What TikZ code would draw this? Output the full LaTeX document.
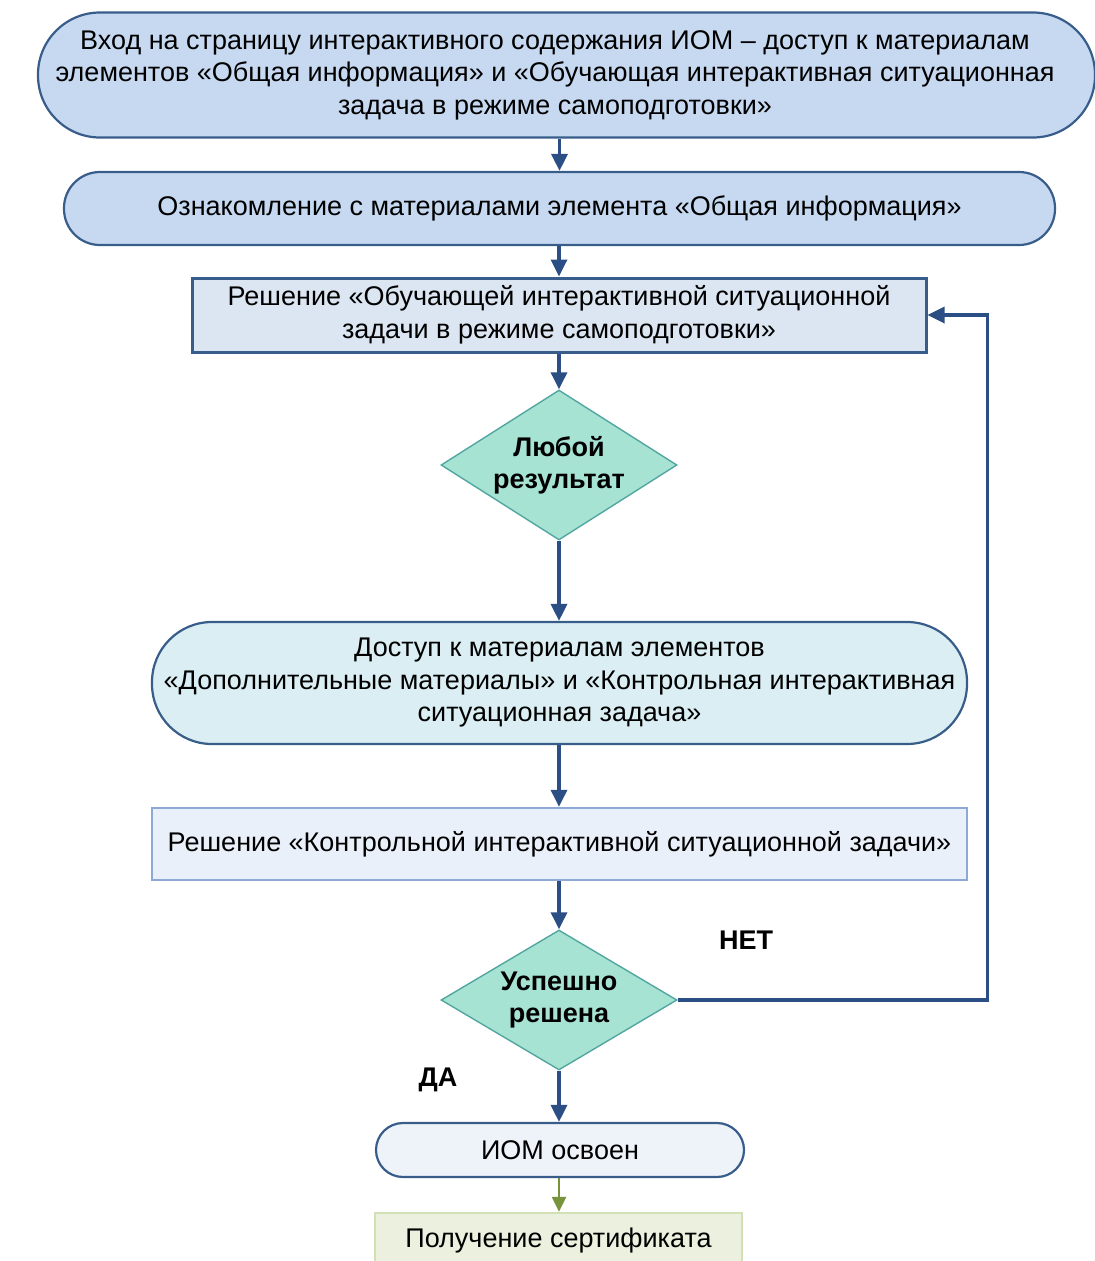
\documentclass[tikz,border=0pt]{standalone}
\usepackage{fontspec}
\setmainfont{Liberation Sans}
\usetikzlibrary{shapes.geometric,arrows.meta,calc}
\definecolor{dblue}{HTML}{385D8A}
\definecolor{arr}{HTML}{2B4F84}
\definecolor{fillA}{HTML}{C6D9F1}
\definecolor{fillB}{HTML}{DCE6F2}
\definecolor{fillC}{HTML}{DAEEF3}
\definecolor{fillD}{HTML}{EAF0F9}
\definecolor{fillE}{HTML}{EEF3FA}
\definecolor{dfill}{HTML}{A6E3D2}
\definecolor{dline}{HTML}{52A6A0}
\definecolor{lblue}{HTML}{8FA9D6}
\definecolor{gfill}{HTML}{EBF1DE}
\definecolor{gline}{HTML}{D2E0B6}
\definecolor{garr}{HTML}{77933C}
\tikzset{
  txt/.style={font=\fontsize{27}{32.5}\selectfont, align=center, inner sep=0pt},
  stad/.style={txt, draw=dblue, line width=2.2pt, rectangle},
  boxA/.style={txt, draw=dblue, line width=3pt, rectangle},
  dec/.style={diamond, aspect=1.7, inner sep=0pt, draw=dline, line width=1.4pt, fill=dfill,
     font=\fontsize{27}{32.5}\selectfont\bfseries, align=center},
  flow/.style={draw=arr, line width=3.4pt, -{Triangle[length=17pt,width=16pt]}},
  lab/.style={font=\fontsize{27}{32}\selectfont\bfseries, inner sep=0pt}
}
\begin{document}
\begin{tikzpicture}[x=1pt,y=-1pt]
\useasboundingbox (0,0) rectangle (1095,1261);
\node[stad, fill=fillA, minimum width=1057pt, minimum height=125pt, rounded corners=62pt] (n1) at (566.5,75) {};
\node[txt] (n1t) at (555,75)
  {Вход на страницу интерактивного содержания ИОМ – доступ к материалам\\
   элементов «Общая информация» и «Обучающая интерактивная ситуационная\\
   задача в режиме самоподготовки»};
\node[stad, fill=fillA, minimum width=991pt, minimum height=73pt, rounded corners=36pt] (n2) at (559.5,208.5)
  {Ознакомление с материалами элемента «Общая информация»};
\node[boxA, fill=fillB, minimum width=734pt, minimum height=74pt] (n3) at (559,315)
  {Решение «Обучающей интерактивной ситуационной\\ задачи в режиме самоподготовки»};
\node[dec, minimum width=236pt, minimum height=150pt] (d1) at (559,465)
  {Любой\\ результат};
\node[stad, fill=fillC, minimum width=815pt, minimum height=122pt, rounded corners=60pt] (n5) at (559.5,683)
  {Доступ к материалам элементов\\ «Дополнительные материалы» и «Контрольная интерактивная\\ ситуационная задача»};
\node[txt, draw=lblue, line width=2.4pt, fill=fillD, minimum width=815pt, minimum height=72pt] (n6) at (559.5,844)
  {Решение «Контрольной интерактивной ситуационной задачи»};
\node[dec, minimum width=236pt, minimum height=140pt] (d2) at (559,1000)
  {Успешно\\ решена};
\node[stad, fill=fillE, minimum width=368pt, minimum height=54pt, rounded corners=27pt] (n8) at (560,1150)
  {ИОМ освоен};
\node[txt, draw=gline, line width=2.4pt, fill=gfill, minimum width=367pt, minimum height=56pt] (n9) at (558.5,1241)
  {Получение сертификата};
\node[lab] (no) at (746,940) {НЕТ};
\node[lab] (yes) at (438,1080) {ДА};
\draw[flow] (n1.south -| n2.north) -- (n2.north);
\draw[flow] (n2.south -| n3.north) -- (n3.north);
\draw[flow] (n3.south -| d1.north) -- (d1.north);
\draw[flow] (d1.south) -- (n5.north -| d1.south);
\draw[flow] (n5.south -| d1.south) -- (n6.north -| d1.south);
\draw[flow] (n6.south -| d2.north) -- (d2.north);
\draw[flow] (d2.south) -- (n8.north -| d2.south);
\draw[flow] (d2.east) -- ++(310,0) |- (n3.east);
\draw[draw=garr, line width=2.4pt, -{Triangle[length=15pt,width=14pt]}] (n8.south -| d2.south) -- (n9.north -| d2.south);
\end{tikzpicture}
\end{document}
